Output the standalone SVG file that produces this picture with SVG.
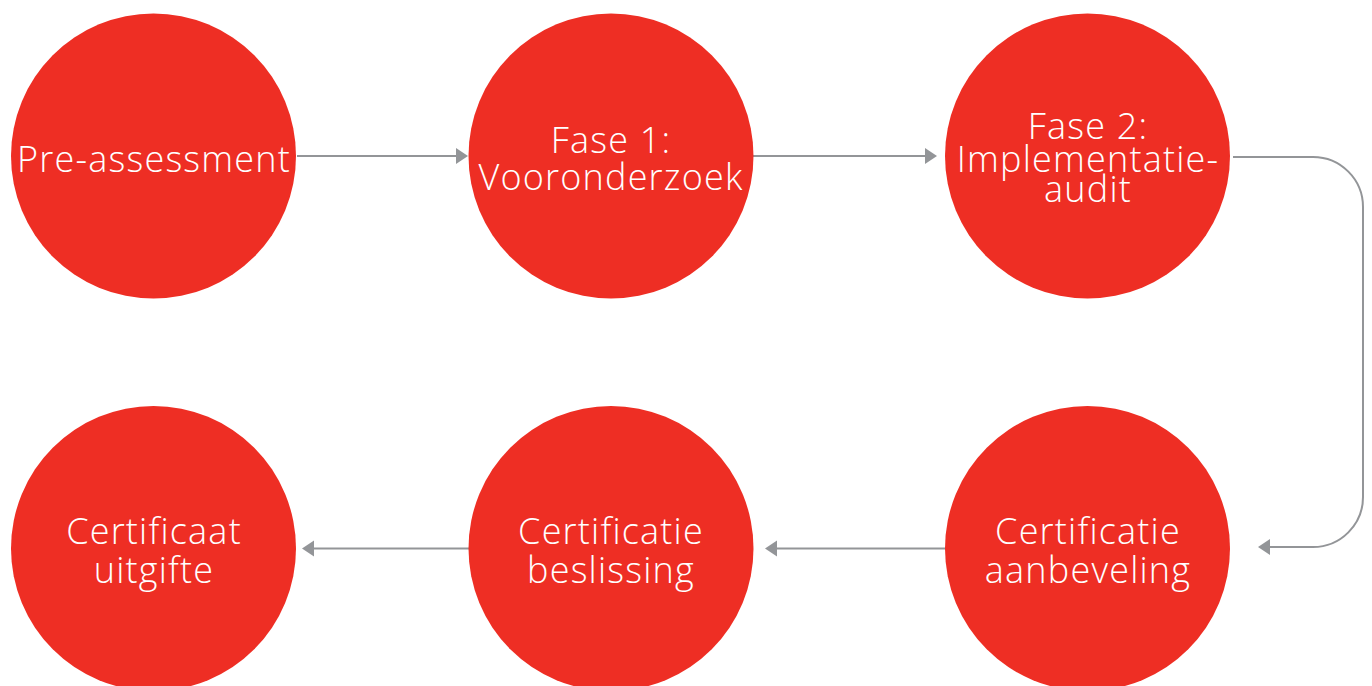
<svg xmlns="http://www.w3.org/2000/svg" width="1372" height="686" viewBox="0 0 1372 686">
  <style>
    .node circle { fill: #EE2E24; }
    .node text { fill: #FFFFFF; font-family: "Open Sans", "Liberation Sans", sans-serif; font-weight: 300; font-size: 36px; letter-spacing: 1.2px; text-anchor: middle; }
    .conn { fill: none; stroke: #939598; stroke-width: 2; }
  </style>
  <defs>
    <marker id="arrow" markerUnits="userSpaceOnUse" markerWidth="12" markerHeight="18" refX="0" refY="9" orient="auto" viewBox="0 0 12 18">
      <path d="M0,1 L12,9 L0,17 z" fill="#939598"/>
    </marker>
  </defs>
  <g id="connectors">
    <path class="conn" d="M297,156 H456" marker-end="url(#arrow)"/>
    <path class="conn" d="M753,156 H925" marker-end="url(#arrow)"/>
    <path class="conn" d="M1233,157 H1313 A50,50 0 0 1 1363,207 V497 A50,50 0 0 1 1313,547 H1270" marker-end="url(#arrow)"/>
    <path class="conn" d="M945,548.5 H777" marker-end="url(#arrow)"/>
    <path class="conn" d="M469,548.5 H314" marker-end="url(#arrow)"/>
  </g>
  <g id="node-pre-assessment" class="node">
    <circle cx="153.5" cy="156" r="142.5"/>
    <text x="154" y="172">Pre-assessment</text>
  </g>
  <g id="node-fase1" class="node">
    <circle cx="611" cy="156" r="142.5"/>
    <text x="611" y="153">Fase 1:</text>
    <text x="611" y="190">Vooronderzoek</text>
  </g>
  <g id="node-fase2" class="node">
    <circle cx="1087.5" cy="156" r="142.5"/>
    <text x="1088" y="139">Fase 2:</text>
    <text x="1088" y="171.5">Implementatie-</text>
    <text x="1088" y="202">audit</text>
  </g>
  <g id="node-certificatie-aanbeveling" class="node">
    <circle cx="1087.5" cy="548.5" r="142.5"/>
    <text x="1088" y="544">Certificatie</text>
    <text x="1088" y="583">aanbeveling</text>
  </g>
  <g id="node-certificatie-beslissing" class="node">
    <circle cx="611" cy="548.5" r="142.5"/>
    <text x="611" y="544">Certificatie</text>
    <text x="611" y="583">beslissing</text>
  </g>
  <g id="node-certificaat-uitgifte" class="node">
    <circle cx="153.5" cy="548.5" r="142.5"/>
    <text x="154" y="544">Certificaat</text>
    <text x="154" y="583">uitgifte</text>
  </g>
</svg>
